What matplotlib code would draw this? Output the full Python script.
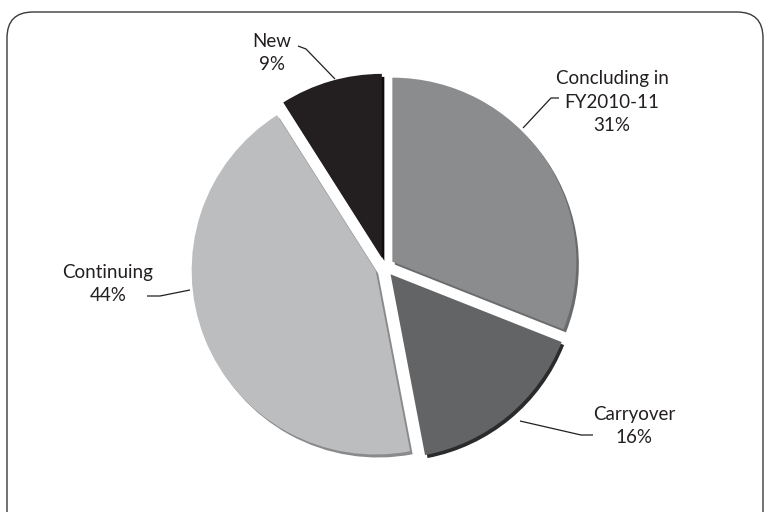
import matplotlib.pyplot as plt
from matplotlib.patches import FancyBboxPatch

# slice data, clockwise from 12 o'clock
labels = ["Concluding in\nFY2010-11", "Carryover", "Continuing", "New"]
shares = [31, 16, 44, 9]
colors = ["#8b8c8e", "#636466", "#bcbdbf", "#231f20"]
shadow_colors = ["#6a6b6d", "#2b2b2b", "#8a8a8c", "#0e0c0c"]

# label anchors and leader lines in pixel space (y from top)
label_pos = [(612, 102), (634, 426), (108, 284), (272, 53)]
leaders = [
    [(559, 98), (551, 98), (523, 128)],
    [(593, 435), (581, 435), (520, 421)],
    [(147, 296), (160, 296), (190, 290)],
    [(298, 46), (306, 49), (335, 79)],
]

W, H = 766, 512
fig = plt.figure(figsize=(W / 100, H / 100), dpi=100)
ax = fig.add_axes([0, 0, 1, 1])

cx, cy, r = 384.5, H - 267, 184
# pie explode is an absolute offset (data units = pixels here)
explode = [9.5] * len(shares)

# darker copy offset down-right gives the bevel/shadow rim
ax.pie(shares, colors=shadow_colors, startangle=90, counterclock=False,
       explode=explode, radius=r, center=(cx + 2.5, cy - 3),
       wedgeprops=dict(linewidth=0))
ax.pie(shares, colors=colors, startangle=90, counterclock=False,
       explode=explode, radius=r, center=(cx, cy),
       wedgeprops=dict(linewidth=0))

for text, share, (tx, ty), pts in zip(labels, shares, label_pos, leaders):
    ax.text(tx, H - ty, f"{text}\n{share}%", ha="center", va="center",
            fontsize=13.5, family="Lato", color="#231f20", linespacing=1.45)
    xs = [p[0] for p in pts]
    ys = [H - p[1] for p in pts]
    ax.plot(xs, ys, color="#231f20", lw=0.9, solid_capstyle="butt")

frame = FancyBboxPatch((7, -40), 756, H - 12 + 40,
                       boxstyle="round,pad=0,rounding_size=26",
                       fill=False, edgecolor="#3a3a3a", lw=1.0)
ax.add_patch(frame)

ax.set_xlim(0, W)
ax.set_ylim(0, H)
ax.set_aspect("auto")
ax.axis("off")

fig.savefig("out.png", dpi=100)
